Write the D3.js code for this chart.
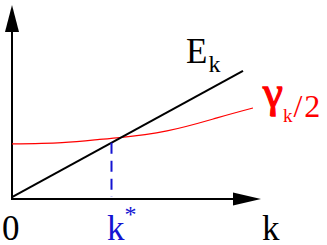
<!DOCTYPE html>
<meta charset="utf-8">
<style>

    body {
        margin: 0;
        background: #fff;
    }

    svg text {
        font-family: "Liberation Serif", "Times New Roman", serif;
    }

    .axis-line {
        stroke: #000;
        stroke-width: 2px;
    }

    .ek {
        fill: none;
        stroke: #000;
        stroke-width: 2px;
    }

    .gamma {
        fill: none;
        stroke: #ff0000;
        stroke-width: 1.2px;
    }

    .kstar-line {
        stroke: #1414d2;
        stroke-width: 2px;
        stroke-dasharray: 11 7;
    }

</style>

<svg width="327" height="245"></svg>

<script src="https://cdn.jsdelivr.net/npm/d3@7"></script>
<script>

    // E_k, a straight line
    var ekK = [0, 9.24];
    var ekValues = [0.1, 6.6];

    // gamma_k / 2, a slowly rising curve
    var gammaK = [0, 2, 3.5, 4.3, 6.2, 8.2, 9.64];
    var gammaValues = [2.84, 2.91, 3.07, 3.16, 3.51, 4.18, 4.69];

    var kStar = 3.98;

    // labels under the k axis
    var tickLabels = ["0", "k", "k"];
    var tickAt = [0, kStar, 10];

    var svg = d3.select("svg");

    var x = d3.scaleLinear().domain([0, 10]).range([12, 262]),
        y = d3.scaleLinear().domain([0, 10]).range([199, 5]);

    var line = d3.line()
        .x(function(d) { return x(d[0]); })
        .y(function(d) { return y(d[1]); });

    // axes
    svg.append("line")
        .attr("class", "axis-line")
        .attr("x1", x(0)).attr("y1", y(0) + 1)
        .attr("x2", x(0)).attr("y2", y(10) + 25);

    svg.append("line")
        .attr("class", "axis-line")
        .attr("x1", x(0) - 1).attr("y1", y(0))
        .attr("x2", x(10) - 25).attr("y2", y(0));

    // arrow heads
    svg.append("path")
        .attr("d", "M" + x(0) + "," + y(10) +
            "L" + (x(0) + 7) + "," + (y(10) + 27) +
            "L" + (x(0) - 7) + "," + (y(10) + 27) + "Z")
        .attr("fill", "#000");

    svg.append("path")
        .attr("d", "M" + (x(10) - 1) + "," + y(0) +
            "L" + (x(10) - 29) + "," + (y(0) - 6.5) +
            "L" + (x(10) - 29) + "," + (y(0) + 6.5) + "Z")
        .attr("fill", "#000");

    // gamma_k / 2 curve
    svg.append("path")
        .datum(d3.zip(gammaK, gammaValues))
        .attr("class", "gamma")
        .attr("d", line.curve(d3.curveNatural));

    // E_k line
    svg.append("path")
        .datum(d3.zip(ekK, ekValues))
        .attr("class", "ek")
        .attr("d", line.curve(d3.curveLinear));

    // dashed drop at k*
    var ekAtStar = ekValues[0] + (ekValues[1] - ekValues[0]) * kStar / ekK[1];
    svg.append("line")
        .attr("class", "kstar-line")
        .attr("x1", x(kStar)).attr("y1", y(ekAtStar))
        .attr("x2", x(kStar)).attr("y2", y(0) - 2);

    // axis labels
    var ticks = svg.selectAll(".tick-label")
        .data(d3.zip(tickLabels, tickAt))
        .enter().append("text")
        .attr("class", "tick-label")
        .attr("x", function(d, i) { return x(d[1]) + [-10, -4.5, 0][i]; })
        .attr("y", 240)
        .style("font-size", "35px")
        .style("fill", function(d, i) { return i == 1 ? "#1414d2" : "#000"; })
        .text(function(d) { return d[0]; });

    ticks.filter(function(d, i) { return i == 1; })
        .append("tspan")
        .attr("dy", -18)
        .style("font-size", "24px")
        .text("*");

    // E_k label
    var eLabel = svg.append("text")
        .attr("x", 186)
        .attr("y", 63)
        .style("font-size", "35px")
        .text("E");
    eLabel.append("tspan")
        .attr("dx", 1)
        .attr("dy", 9)
        .style("font-size", "24px")
        .text("k");

    // gamma_k / 2 label
    var gLabel = svg.append("text")
        .attr("x", 263)
        .attr("y", 107)
        .style("fill", "#ff0000")
        .style("font-size", "32px");
    gLabel.append("tspan")
        .style("font-size", "45px")
        .style("stroke", "#ff0000")
        .style("stroke-width", "1.3px")
        .text("γ");
    gLabel.append("tspan")
        .attr("dy", 15)
        .style("font-size", "19px")
        .text("k");
    gLabel.append("tspan")
        .attr("dx", 1)
        .attr("dy", -5)
        .style("letter-spacing", "2px")
        .text("/2");

</script>
